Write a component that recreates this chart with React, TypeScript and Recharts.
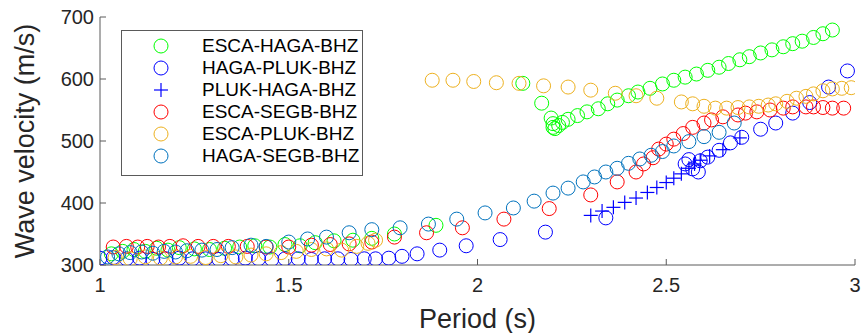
import React from "react";
import {
  Legend,
  Scatter,
  ScatterChart,
  XAxis,
  YAxis,
} from "recharts";

// ESCA-HAGA-BHZ
const escaHagaPeriod = [
  1.03, 1.06, 1.09, 1.12, 1.15, 1.18, 1.21, 1.25, 1.29, 1.33, 1.37, 1.41, 1.45,
  1.49, 1.53, 1.57, 1.62, 1.67, 1.72, 1.78, 1.89, 2.12, 2.17, 2.195, 2.2, 2.2,
  2.205, 2.215, 2.225, 2.24, 2.265, 2.29, 2.32, 2.345, 2.37, 2.4, 2.425, 2.457,
  2.49, 2.52, 2.55, 2.58, 2.61, 2.64, 2.665, 2.695, 2.72, 2.75, 2.78, 2.81,
  2.835, 2.86, 2.89, 2.915, 2.94,
];
const escaHagaVel = [
  318, 322, 325, 322, 327, 324, 328, 326, 325, 327, 329, 331, 329, 333, 331,
  336, 339, 340, 343, 350, 364, 593, 561, 537, 528, 522, 520, 525, 530, 535,
  541, 547, 552, 560, 566, 573, 579, 585, 592, 598, 603, 608, 614, 619, 625,
  631, 636, 642, 647, 652, 657, 661, 667, 673, 679,
];

// HAGA-PLUK-BHZ
const hagaPlukPeriod = [
  1.0, 1.035, 1.07, 1.105, 1.14, 1.175, 1.21, 1.245, 1.28, 1.315, 1.35, 1.385,
  1.42, 1.455, 1.49, 1.525, 1.56, 1.595, 1.63, 1.665, 1.7, 1.73, 1.765, 1.8,
  1.84, 1.9, 1.97, 2.06, 2.18, 2.34, 2.55, 2.56, 2.57, 2.585, 2.59, 2.61, 2.64,
  2.67, 2.7, 2.75, 2.79, 2.835, 2.88, 2.93, 2.98,
];
const hagaPlukVel = [
  311, 312, 310, 311, 309, 310, 311, 310, 310, 309, 310, 311, 310, 309, 310,
  310, 309, 310, 310, 309, 310, 310, 311, 314, 318, 324, 331, 341, 353, 376,
  463, 470, 455, 450, 468, 474, 485, 497, 506, 519, 529, 545, 562, 587, 613,
];

// PLUK-HAGA-BHZ
const plukHagaPeriod = [
  2.3, 2.33, 2.36, 2.39, 2.42, 2.45, 2.475, 2.5, 2.52, 2.54, 2.56, 2.575, 2.59,
  2.615, 2.65, 2.695,
];
const plukHagaVel = [
  380, 387, 393, 401, 408, 417, 425, 433, 440, 447, 456, 463, 469, 476, 486,
  505,
];

// ESCA-SEGB-BHZ
const escaSegbPeriod = [
  1.035, 1.07, 1.1, 1.125, 1.155, 1.185, 1.22, 1.26, 1.3, 1.34, 1.39, 1.44, 1.5,
  1.56, 1.61, 1.66, 1.72, 1.78, 1.865, 1.96, 2.07, 2.19, 2.3, 2.37, 2.42, 2.44,
  2.465, 2.48, 2.5, 2.52, 2.545, 2.57, 2.6, 2.62, 2.65, 2.69, 2.71, 2.74, 2.775,
  2.81, 2.835, 2.87, 2.89, 2.915, 2.94, 2.97,
];
const escaSegbVel = [
  329, 330, 329, 330, 329, 330, 331, 330, 330, 330, 330, 329, 329, 332, 333,
  334, 337, 345, 352, 360, 374, 391, 413, 434, 450, 463, 473, 487, 495, 503,
  512, 522, 529, 534, 539, 542, 545, 547, 550, 553, 555, 555, 555, 554, 553,
  553,
];

// ESCA-PLUK-BHZ
const escaPlukPeriod = [
  1.04, 1.08, 1.12, 1.16, 1.2, 1.24, 1.28, 1.32, 1.36, 1.4, 1.44, 1.48, 1.52,
  1.56, 1.6, 1.64, 1.68, 1.71, 1.73, 1.88, 1.935, 1.99, 2.05, 2.11, 2.175, 2.24,
  2.3, 2.365, 2.42, 2.475, 2.54, 2.57, 2.6, 2.63, 2.66, 2.69, 2.72, 2.745, 2.77,
  2.79, 2.82, 2.845, 2.87, 2.89, 2.915, 2.94, 2.965, 2.99,
];
const escaPlukVel = [
  312, 310, 313, 311, 313, 314, 312, 315, 313, 316, 318, 320, 322, 325, 326,
  324, 330, 335, 340, 598, 598, 596, 594, 593, 589, 587, 582, 577, 573, 569,
  563, 560, 556, 553, 553, 554, 555, 556, 558, 560, 564, 569, 572, 576, 581,
  584, 585, 586,
];

// HAGA-SEGB-BHZ
const hagaSegbPeriod = [
  1.02, 1.05, 1.08, 1.11, 1.14, 1.17, 1.2, 1.23, 1.27, 1.31, 1.35, 1.4, 1.44,
  1.5, 1.55, 1.6, 1.66, 1.72, 1.795, 1.87, 1.945, 2.02, 2.095, 2.15, 2.2, 2.24,
  2.28, 2.31, 2.34, 2.37, 2.4, 2.43, 2.46, 2.49, 2.52, 2.56, 2.6, 2.64, 2.68,
];
const hagaSegbVel = [
  313, 318, 320, 321, 319, 322, 321, 323, 324, 325, 328, 332, 330, 337, 342,
  345, 352, 357, 360, 366, 374, 384, 392, 403, 416, 424, 434, 442, 450, 456,
  464, 471, 477, 483, 492, 499, 507, 514, 529,
];

const xTicks = [1, 1.5, 2, 2.5, 3];
const yTicks = [300, 400, 500, 600, 700];

const FONT = "'Liberation Sans', Arial, sans-serif";
const AXIS = "#5a5a5a";

const zip = (xs: number[], ys: number[]) =>
  xs.map((x, i) => ({ period: x, velocity: ys[i] }));

const series = [
  { name: "ESCA-HAGA-BHZ", color: "#00ff00", marker: "o", data: zip(escaHagaPeriod, escaHagaVel) },
  { name: "HAGA-PLUK-BHZ", color: "#0000ff", marker: "o", data: zip(hagaPlukPeriod, hagaPlukVel) },
  { name: "PLUK-HAGA-BHZ", color: "#0000ff", marker: "+", data: zip(plukHagaPeriod, plukHagaVel) },
  { name: "ESCA-SEGB-BHZ", color: "#ff0000", marker: "o", data: zip(escaSegbPeriod, escaSegbVel) },
  { name: "ESCA-PLUK-BHZ", color: "#edb120", marker: "o", data: zip(escaPlukPeriod, escaPlukVel) },
  { name: "HAGA-SEGB-BHZ", color: "#0072bd", marker: "o", data: zip(hagaSegbPeriod, hagaSegbVel) },
];

function Marker({ cx, cy, color, marker }: any) {
  if (cx == null || cy == null) return null;
  if (marker === "+") {
    return (
      <g stroke={color} strokeWidth={1.2}>
        <line x1={cx - 7} y1={cy} x2={cx + 7} y2={cy} />
        <line x1={cx} y1={cy - 7} x2={cx} y2={cy + 7} />
      </g>
    );
  }
  return <circle cx={cx} cy={cy} r={7} fill="none" stroke={color} strokeWidth={1} />;
}

function LegendBox() {
  return (
    <div
      style={{
        border: `1px solid ${AXIS}`,
        background: "#fff",
        width: 242,
        height: 146,
        boxSizing: "border-box",
        paddingTop: 4,
        fontFamily: FONT,
        fontSize: 19,
        color: "#000",
      }}
    >
      {series.map((s) => (
        <div key={s.name} style={{ display: "flex", alignItems: "center", height: 22 }}>
          <svg width={80} height={22}>
            <Marker cx={39} cy={11} color={s.color} marker={s.marker} />
          </svg>
          <span style={{ lineHeight: "22px" }}>{s.name}</span>
        </div>
      ))}
    </div>
  );
}

export default function App() {
  return (
    <div style={{ position: "absolute", left: 0, top: 0, background: "#fff" }}>
      <ScatterChart
        width={862}
        height={333}
        margin={{ top: 17, right: 7, left: 0, bottom: 0 }}
      >
        <XAxis
          xAxisId="bottom"
          type="number"
          dataKey="period"
          domain={[1, 3]}
          ticks={xTicks}
          height={68}
          stroke={AXIS}
          tickSize={-6}
          tickMargin={19}
          tick={{ fill: "#262626", fontSize: 20, fontFamily: FONT }}
          allowDataOverflow
          label={{
            value: "Period (s)",
            position: "insideBottom",
            offset: 5,
            style: { fill: "#262626", fontSize: 27, fontFamily: FONT },
          }}
        />
        <XAxis
          xAxisId="top"
          orientation="top"
          type="number"
          dataKey="period"
          domain={[1, 3]}
          ticks={xTicks}
          height={0}
          stroke={AXIS}
          tickSize={-6}
          tick={false}
          allowDataOverflow
        />
        <YAxis
          yAxisId="left"
          type="number"
          dataKey="velocity"
          domain={[300, 700]}
          ticks={yTicks}
          width={100}
          stroke={AXIS}
          tickSize={-6}
          tickMargin={12}
          tick={{ fill: "#262626", fontSize: 20, fontFamily: FONT }}
          allowDataOverflow
          label={{
            value: "Wave velocity (m/s)",
            angle: -90,
            position: "insideLeft",
            offset: 24,
            style: { fill: "#262626", fontSize: 27, fontFamily: FONT, textAnchor: "middle" },
          }}
        />
        <YAxis
          yAxisId="right"
          orientation="right"
          type="number"
          dataKey="velocity"
          domain={[300, 700]}
          ticks={yTicks}
          width={0}
          stroke={AXIS}
          tickSize={-6}
          tick={false}
          allowDataOverflow
        />
        {series.map((s) => (
          <Scatter
            key={s.name}
            name={s.name}
            data={s.data}
            xAxisId="bottom"
            yAxisId="left"
            isAnimationActive={false}
            shape={(p: any) => <Marker cx={p.cx} cy={p.cy} color={s.color} marker={s.marker} />}
          />
        ))}
        <Legend
          layout="vertical"
          align="center"
          verticalAlign="middle"
          wrapperStyle={{ left: 121, top: 30, width: 242 }}
          content={() => <LegendBox />}
        />
      </ScatterChart>
    </div>
  );
}
